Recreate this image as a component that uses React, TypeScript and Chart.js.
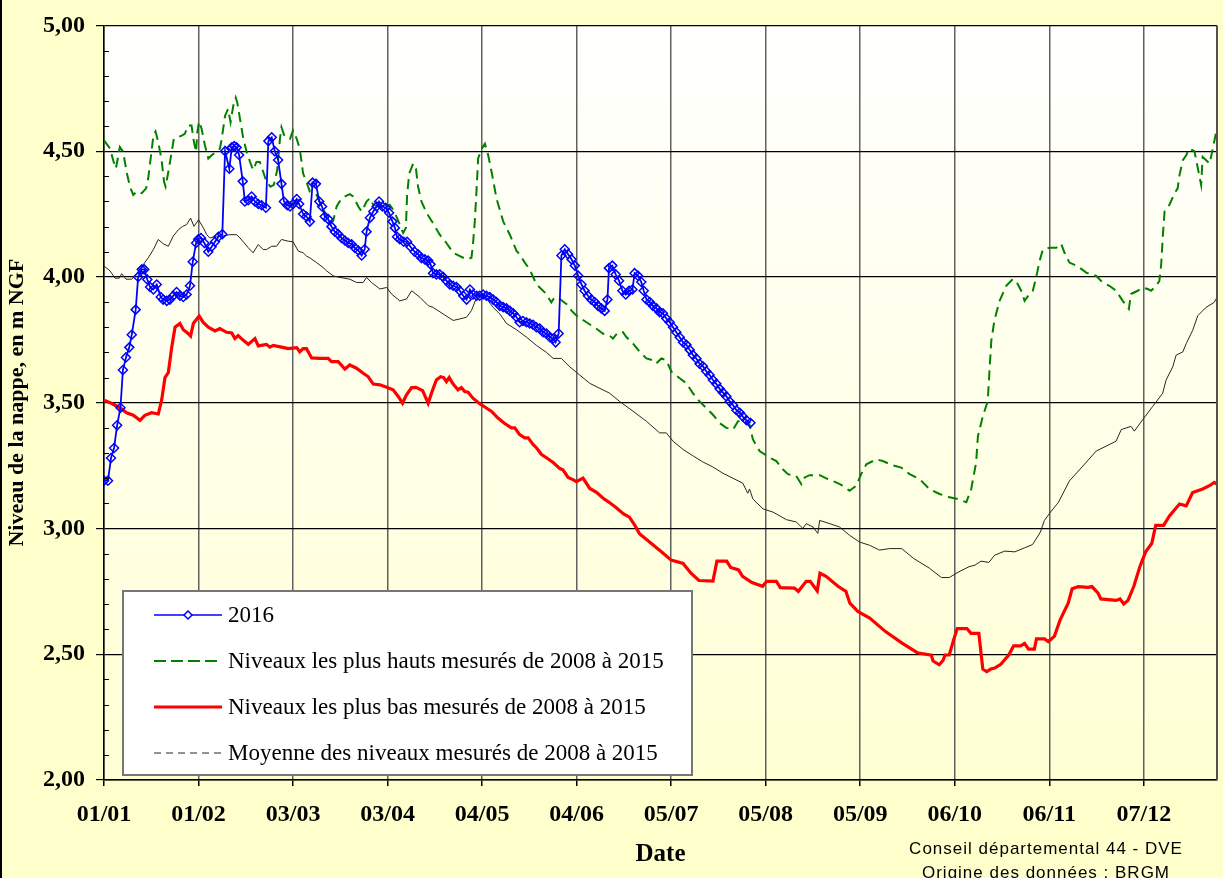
import React, { useEffect, useRef } from 'react';
import { Chart, registerables } from 'chart.js';

Chart.register(...registerables);

const W = 1223;
const H = 878;
const SERIF = '"Liberation Serif", "Times New Roman", serif';
const SANS = '"Liberation Sans", Arial, sans-serif';

// x axis: day of year 2016 (0 = 1 January)
const xTickDays = [0, 31, 62, 93, 124, 155, 186, 217, 248, 279, 310, 341];
const xTickLabels = ['01/01', '01/02', '03/03', '03/04', '04/05', '04/06', '05/07', '05/08', '05/09', '06/10', '06/11', '07/12'];
const yTickValues = [2, 2.5, 3, 3.5, 4, 4.5, 5];
const yTickLabels = ['2,00', '2,50', '3,00', '3,50', '4,00', '4,50', '5,00'];

const seriesLabels = [
  '2016',
  'Niveaux les plus hauts mesurés de 2008 à 2015',
  'Niveaux les plus bas mesurés de 2008 à 2015',
  'Moyenne des niveaux mesurés de 2008 à 2015',
];

// [day, level (m NGF)]
const levels2016: [number, number][] = [
  [0, 3.19], [1.3, 3.19], [2.3, 3.28], [3.3, 3.32], [4.3, 3.41], [5.4, 3.48], [6.2, 3.63], [7.2, 3.68], [8.3, 3.72], [9.1, 3.77],
  [10.4, 3.87], [11.2, 4.0], [12.4, 4.03], [13.2, 4.03], [14.2, 3.99], [15.1, 3.96], [16.2, 3.95], [17.3, 3.97], [18.6, 3.92], [19.4, 3.91],
  [20.6, 3.905], [21.6, 3.91], [22.7, 3.925], [23.8, 3.94], [24.9, 3.925], [26, 3.92], [27.1, 3.93], [28.2, 3.965], [29.1, 4.06], [30.2, 4.135],
  [30.9, 4.15], [31.8, 4.155], [32.9, 4.135], [34.2, 4.1], [35.3, 4.12], [36.4, 4.14], [37.5, 4.16], [38.8, 4.17], [39.7, 4.5], [41.1, 4.43],
  [41.9, 4.515], [42.7, 4.52], [43.5, 4.515], [44.3, 4.485], [45.5, 4.38], [46.2, 4.3], [47.3, 4.305], [48.4, 4.32], [49.5, 4.3], [50.6, 4.29],
  [51.7, 4.285], [53.1, 4.275], [53.9, 4.54], [55, 4.555], [56, 4.5], [57.1, 4.465], [58.2, 4.37], [59, 4.3], [60.1, 4.285], [61, 4.28],
  [62, 4.29], [63.2, 4.31], [64, 4.29], [65.3, 4.25], [66.4, 4.24], [67.5, 4.22], [68.4, 4.375], [69.5, 4.37], [70.6, 4.3], [71.5, 4.28],
  [72.4, 4.24], [73.5, 4.23], [74.6, 4.2], [75.7, 4.18], [76.8, 4.17], [77.9, 4.155], [79, 4.145], [80.1, 4.135], [81.2, 4.13], [82.3, 4.115],
  [83.4, 4.105], [84.5, 4.085], [85.5, 4.11], [86.1, 4.18], [87.2, 4.235], [88.3, 4.26], [89.4, 4.28], [90.2, 4.3], [91.3, 4.28], [92.4, 4.275],
  [93.5, 4.255], [94.6, 4.22], [95.4, 4.195], [96.1, 4.16], [97, 4.15], [98.3, 4.14], [99.4, 4.14], [100.5, 4.12], [101.9, 4.1], [103, 4.09],
  [104.1, 4.075], [105.2, 4.07], [106.3, 4.065], [107.1, 4.05], [107.9, 4.015], [109, 4.01], [110.1, 4.01], [111.2, 4.0], [112.3, 3.985], [113.4, 3.97],
  [114.5, 3.965], [115.6, 3.96], [116.7, 3.945], [117.8, 3.925], [118.9, 3.91], [120, 3.95], [121, 3.93], [122.2, 3.925], [123.2, 3.925], [124.3, 3.93],
  [125.4, 3.925], [126.5, 3.92], [127.6, 3.91], [128.7, 3.9], [129.8, 3.885], [130.9, 3.88], [132, 3.875], [133.1, 3.865], [134.2, 3.855], [135.3, 3.84],
  [136.3, 3.82], [137.4, 3.825], [138.5, 3.82], [139.6, 3.815], [140.7, 3.81], [141.8, 3.8], [142.9, 3.795], [144, 3.78], [145.1, 3.775], [146.2, 3.76],
  [147.3, 3.755], [148.1, 3.74], [149.1, 3.775], [150, 4.085], [151.1, 4.11], [152.2, 4.09], [153.3, 4.07], [154.4, 4.045], [155.5, 4.005], [156.6, 3.97],
  [157.6, 3.945], [158.7, 3.925], [159.8, 3.91], [160.9, 3.9], [162, 3.885], [163.1, 3.875], [164.2, 3.865], [165.1, 3.91], [165.6, 4.035], [166.7, 4.045],
  [167.8, 4.01], [168.9, 3.985], [170, 3.945], [171.1, 3.93], [172.2, 3.945], [173.3, 3.95], [174, 4.015], [175.1, 4.005], [176.2, 3.98], [177, 3.945],
  [177.9, 3.91], [179, 3.9], [180, 3.885], [181.2, 3.875], [182.2, 3.86], [183.3, 3.855], [184.4, 3.835], [185.5, 3.82], [186.6, 3.8], [187.7, 3.78],
  [188.8, 3.76], [189.9, 3.74], [191, 3.73], [192.1, 3.71], [193.1, 3.69], [194.3, 3.675], [195.3, 3.655], [196.4, 3.645], [197.5, 3.625], [198.6, 3.61],
  [199.7, 3.59], [200.8, 3.575], [201.9, 3.555], [203, 3.54], [204.1, 3.525], [205.2, 3.505], [206.3, 3.49], [207.4, 3.47], [208.5, 3.46], [209.5, 3.445],
  [210.7, 3.43], [212, 3.42],
];

const highLevels: [number, number][] = [
  [0, 4.543], [2, 4.51], [3, 4.464], [3.9, 4.431], [5.2, 4.516], [6.3, 4.497], [7.4, 4.418], [8.5, 4.359], [9.6, 4.326], [10.7, 4.34],
  [12.4, 4.333], [13.8, 4.352], [14.5, 4.392], [15.3, 4.471], [16.2, 4.562], [16.9, 4.578], [17.8, 4.536], [18.9, 4.464], [19.7, 4.378], [20.2, 4.359],
  [21.1, 4.418], [22.2, 4.497], [22.9, 4.549], [25.5, 4.562], [26.5, 4.569], [27.6, 4.602], [28.7, 4.602], [29.5, 4.536], [30.2, 4.497], [30.6, 4.576],
  [31.2, 4.618], [32, 4.589], [33.1, 4.523], [34.2, 4.471], [35.3, 4.484], [36.9, 4.497], [38, 4.51], [38.6, 4.549], [39.7, 4.641], [40.7, 4.668],
  [41.5, 4.615], [42.4, 4.681], [43.2, 4.713], [43.7, 4.694], [44.6, 4.628], [45.7, 4.549], [46.8, 4.497], [47.9, 4.457], [48.9, 4.425], [50, 4.457],
  [51.1, 4.457], [52.2, 4.418], [53.3, 4.378], [54.6, 4.359], [55.7, 4.366], [56.8, 4.425], [57.7, 4.549], [58.2, 4.595], [59.3, 4.556], [61, 4.549],
  [62, 4.582], [63.2, 4.549], [64.2, 4.51], [65.3, 4.411], [66.4, 4.378], [67.5, 4.339], [69.7, 4.326], [71.8, 4.27], [74.1, 4.214], [75.1, 4.221],
  [76.3, 4.28], [77.9, 4.313], [80.6, 4.329], [81.7, 4.32], [83.4, 4.28], [84.5, 4.26], [86.1, 4.3], [87.2, 4.313], [88.3, 4.287], [91.5, 4.274],
  [93.7, 4.287], [94.8, 4.267], [95.9, 4.24], [97, 4.208], [98.1, 4.175], [99, 4.195], [99.4, 4.326], [100.1, 4.411], [101.4, 4.451], [102.3, 4.431],
  [103, 4.359], [104.1, 4.3], [105.8, 4.254], [107.9, 4.214], [110.1, 4.168], [112.3, 4.135], [114.5, 4.096], [116.7, 4.083], [118.9, 4.07], [120.5, 4.076],
  [121, 4.129], [121.6, 4.221], [122.2, 4.352], [122.7, 4.471], [123.9, 4.51], [124.9, 4.53], [126, 4.484], [127.1, 4.418], [128.7, 4.313], [130.9, 4.221],
  [133.1, 4.168], [135.3, 4.103], [136.3, 4.09], [138, 4.057], [139.6, 4.03], [141.8, 3.971], [144.5, 3.939], [146.7, 3.899], [147.8, 3.92], [149.5, 3.912],
  [151.7, 3.892], [153.3, 3.866], [155, 3.846], [158.2, 3.82], [161.5, 3.794], [163.7, 3.774], [165.8, 3.767], [166.9, 3.755], [168.6, 3.78], [170.2, 3.78],
  [171.3, 3.761], [173.5, 3.735], [175.7, 3.702], [177.9, 3.676], [180, 3.669], [181.1, 3.656], [182.8, 3.676], [184.4, 3.669], [186.1, 3.623], [188.8, 3.597],
  [191, 3.577], [193.1, 3.538], [195.3, 3.505], [197.5, 3.479], [199.7, 3.452], [201.9, 3.419], [204.1, 3.4], [206.3, 3.393], [207.9, 3.426], [209.5, 3.432],
  [211.7, 3.413], [212.8, 3.354], [215, 3.308], [218.3, 3.281], [220.5, 3.268], [222.6, 3.235], [224.3, 3.216], [227, 3.209], [228.7, 3.176], [229.8, 3.203],
  [231.4, 3.212], [234.7, 3.212], [237.4, 3.196], [240.1, 3.183], [242.3, 3.17], [244.5, 3.15], [246.7, 3.17], [248.3, 3.216], [250, 3.255], [253.3, 3.275],
  [255.4, 3.268], [258.7, 3.251], [261.5, 3.242], [264.2, 3.216], [267.5, 3.196], [270.7, 3.157], [274, 3.137], [277.3, 3.124], [280, 3.117], [282.8, 3.104],
  [284.4, 3.157], [286, 3.262], [286.6, 3.367], [288.2, 3.446], [289.8, 3.505], [290.4, 3.63], [291, 3.748], [292, 3.827], [293.7, 3.905], [295.9, 3.965],
  [298, 3.991], [299.1, 3.984], [300.8, 3.945], [301.9, 3.905], [303.5, 3.932], [304.6, 3.945], [305.7, 3.998], [306.8, 4.063], [307.9, 4.109], [310.1, 4.116],
  [312.3, 4.116], [313.9, 4.132], [315, 4.096], [316.6, 4.057], [319.3, 4.043], [322.1, 4.017], [325.4, 4.004], [327.5, 3.978], [329.7, 3.965], [331.9, 3.945],
  [334.1, 3.905], [336.1, 3.873], [336.8, 3.932], [339, 3.945], [340.6, 3.958], [342.3, 3.952], [343.4, 3.945], [345, 3.965], [346.1, 3.984], [346.7, 4.05],
  [347.2, 4.155], [347.8, 4.26], [349.4, 4.287], [351.1, 4.333], [352.1, 4.352], [352.7, 4.405], [353.8, 4.464], [354.9, 4.484], [355.9, 4.51], [357.6, 4.5],
  [359.8, 4.366], [360.3, 4.477], [362.6, 4.451], [363.6, 4.51], [364.8, 4.58],
];

const lowLevels: [number, number][] = [
  [0, 3.51], [2, 3.5], [3.6, 3.49], [5.2, 3.48], [7.4, 3.46], [9.6, 3.45], [11.8, 3.43], [13.4, 3.45], [15.6, 3.46], [17.8, 3.455],
  [18.9, 3.51], [20, 3.6], [21.1, 3.62], [22.2, 3.72], [23.3, 3.8], [24.9, 3.815], [26, 3.79], [27.6, 3.775], [28.4, 3.765], [29.3, 3.815],
  [31.2, 3.845], [32.5, 3.82], [34.2, 3.8], [36.4, 3.785], [38, 3.795], [40.2, 3.78], [41.9, 3.777], [42.9, 3.755], [44, 3.767], [45.7, 3.748],
  [47.3, 3.732], [49.5, 3.755], [50.6, 3.726], [53.3, 3.732], [54.4, 3.721], [55.5, 3.728], [58.2, 3.721], [60.4, 3.715], [63.2, 3.719], [64.2, 3.702],
  [65.3, 3.715], [66.4, 3.715], [68.1, 3.678], [70.8, 3.676], [73.5, 3.676], [74.6, 3.663], [76.8, 3.663], [79, 3.634], [80.6, 3.65], [82.8, 3.637],
  [85, 3.617], [86.6, 3.604], [88.3, 3.574], [90.5, 3.571], [92.7, 3.561], [94.8, 3.551], [96.5, 3.525], [97.9, 3.498], [99.2, 3.531], [100.9, 3.56],
  [102.3, 3.561], [104.5, 3.548], [106.3, 3.498], [107.4, 3.538], [109, 3.59], [110.4, 3.603], [111.4, 3.6], [112.3, 3.584], [113.2, 3.6], [114.5, 3.574],
  [116.1, 3.551], [117.2, 3.56], [118.3, 3.544], [119.4, 3.542], [121, 3.518], [123.2, 3.496], [124.9, 3.483], [127.1, 3.465], [129.2, 3.439], [131.4, 3.417],
  [133.6, 3.4], [134.7, 3.4], [136.3, 3.373], [138, 3.36], [139.1, 3.36], [140.7, 3.334], [141.8, 3.321], [143.5, 3.294], [145.1, 3.281], [147.3, 3.262],
  [149.5, 3.238], [150.5, 3.233], [152.2, 3.203], [153.8, 3.194], [154.9, 3.186], [157.1, 3.2], [159.3, 3.159], [161.5, 3.144], [163.7, 3.12], [165.3, 3.107],
  [167.8, 3.084], [170.4, 3.058], [172.3, 3.045], [174.1, 3.012], [175.6, 2.979], [179.5, 2.94], [182.5, 2.91], [186, 2.874], [189.9, 2.861], [192.5, 2.822],
  [195.1, 2.793], [199.7, 2.791], [201, 2.87], [204.2, 2.87], [205.5, 2.845], [208.1, 2.835], [209.4, 2.81], [212.5, 2.785], [216, 2.77], [217.3, 2.79],
  [220.5, 2.79], [221.8, 2.765], [226.4, 2.763], [227.7, 2.75], [230.3, 2.79], [231.6, 2.79], [233.9, 2.752], [234.8, 2.822], [236.8, 2.81], [240.7, 2.77],
  [243.3, 2.75], [244.6, 2.703], [247.2, 2.67], [251.1, 2.644], [256.3, 2.59], [261.6, 2.545], [266.7, 2.506], [271.3, 2.496], [271.9, 2.473], [273.9, 2.458],
  [275.2, 2.476], [275.8, 2.497], [277.2, 2.497], [278.5, 2.552], [279.8, 2.602], [283, 2.602], [284.3, 2.583], [286.9, 2.583], [288.2, 2.441], [289.5, 2.431],
  [290.8, 2.441], [292.1, 2.445], [294.1, 2.46], [296.7, 2.497], [298.3, 2.533], [300.6, 2.533], [301.9, 2.543], [303.2, 2.52], [305.1, 2.52], [305.8, 2.561],
  [308.4, 2.561], [309.7, 2.55], [311.7, 2.572], [313.6, 2.638], [316.2, 2.703], [317.5, 2.76], [319.5, 2.769], [322.7, 2.766], [324, 2.769], [326, 2.743],
  [326.9, 2.72], [331.9, 2.714], [333.2, 2.72], [334.4, 2.7], [335.8, 2.714], [337.7, 2.769], [339.7, 2.848], [341.6, 2.907], [343.6, 2.94], [344.9, 3.012],
  [347.5, 3.012], [349.4, 3.05], [352.7, 3.097], [354.9, 3.09], [357, 3.143], [360.3, 3.157], [362.5, 3.17], [364.1, 3.183], [365, 3.176],
];

const meanLevels: [number, number][] = [
  [0, 4.043], [2, 4.024], [3.6, 3.995], [5, 3.995], [5.8, 4.013], [7.2, 3.991], [9.1, 3.991], [10.7, 4.013], [14.5, 4.076], [16.2, 4.109],
  [17.8, 4.149], [19.4, 4.132], [21.1, 4.122], [22.7, 4.162], [24.4, 4.188], [25.8, 4.201], [27.1, 4.208], [28.4, 4.234], [29.5, 4.201], [31, 4.227],
  [32.5, 4.197], [33.7, 4.168], [34.7, 4.155], [36.9, 4.162], [38.6, 4.162], [41.3, 4.168], [43.5, 4.168], [44.6, 4.155], [47.3, 4.116], [48.9, 4.096],
  [50.6, 4.129], [52.2, 4.109], [53.3, 4.109], [55, 4.122], [56.6, 4.122], [58.2, 4.149], [60.4, 4.142], [62, 4.14], [63.7, 4.103], [65.3, 4.096],
  [66.4, 4.083], [67.5, 4.076], [69.7, 4.057], [71.9, 4.037], [73, 4.024], [75.2, 4.004], [77.4, 3.998], [80.6, 3.991], [82.8, 3.978], [85, 3.978],
  [86.1, 3.998], [87.7, 3.978], [90.5, 3.952], [92.7, 3.958], [94.3, 3.932], [97, 3.905], [99.2, 3.912], [100.9, 3.945], [103.6, 3.919], [106.3, 3.886],
  [107.9, 3.879], [111.2, 3.853], [114.5, 3.827], [116.7, 3.833], [118.9, 3.84], [120.5, 3.866], [122.2, 3.919], [124.3, 3.932], [126, 3.905], [127.6, 3.879],
  [129.8, 3.853], [132, 3.815], [135.3, 3.79], [138.5, 3.761], [141.8, 3.728], [145.1, 3.7], [147.3, 3.676], [150, 3.676], [152.7, 3.643], [156, 3.61],
  [159.3, 3.577], [162.6, 3.557], [165.8, 3.538], [169.1, 3.505], [173.5, 3.466], [177.9, 3.426], [182.2, 3.38], [184.4, 3.38], [186.6, 3.347], [189.9, 3.314],
  [193, 3.29], [196.3, 3.265], [199.6, 3.245], [202.9, 3.22], [206.2, 3.2], [209.5, 3.18], [211.1, 3.14], [211.7, 3.157], [212.8, 3.117], [216.1, 3.078],
  [219.4, 3.065], [223.8, 3.035], [227, 3.026], [229.2, 3.0], [230.3, 3.019], [232.5, 3.006], [234.1, 2.98], [234.7, 3.032], [238, 3.019], [241.2, 3.006],
  [244.5, 2.973], [247.8, 2.946], [251.1, 2.933], [254.3, 2.914], [257.6, 2.92], [261.6, 2.92], [265.5, 2.881], [270.7, 2.842], [274.6, 2.805], [277.2, 2.805],
  [280.4, 2.828], [283.7, 2.848], [285.6, 2.854], [287.6, 2.87], [290.2, 2.865], [292.1, 2.894], [295.4, 2.91], [298.7, 2.907], [301.9, 2.923], [304.5, 2.936],
  [307.1, 2.986], [308.4, 3.032], [310.4, 3.065], [313, 3.104], [316.6, 3.189], [321, 3.248], [325.4, 3.308], [328.6, 3.327], [331.9, 3.347], [333.6, 3.393],
  [336.8, 3.406], [337.9, 3.387], [340.6, 3.432], [343.9, 3.485], [347.2, 3.538], [348.3, 3.59], [350.5, 3.643], [351.6, 3.689], [353.8, 3.702], [354.9, 3.735],
  [357, 3.787], [358.7, 3.846], [361.4, 3.879], [364.1, 3.899], [365, 3.919],
];

const toPoints = (rows: [number, number][]) => rows.map(([x, y]) => ({ x, y }));

const decorPlugin = {
  id: 'decor',
  beforeDraw(chart: any) {
    const { ctx, chartArea: a, width, height } = chart;
    ctx.save();
    ctx.fillStyle = '#FFFFCC';
    ctx.fillRect(0, 0, width, height);
    const g = ctx.createLinearGradient(0, a.top, 0, a.bottom);
    g.addColorStop(0, '#FFFFFF');
    g.addColorStop(1, '#FFFFD4');
    ctx.fillStyle = g;
    ctx.fillRect(a.left, a.top, a.right - a.left, a.bottom - a.top);
    ctx.restore();
  },
  afterDraw(chart: any) {
    const { ctx, chartArea: a, scales } = chart;
    const ys = scales.y;
    ctx.save();
    // minor inward ticks on the y axis
    ctx.strokeStyle = '#000';
    ctx.lineWidth = 1;
    for (let i = 21; i < 50; i++) {
      if (i % 5 === 0) continue;
      const py = Math.round(ys.getPixelForValue(i / 10)) + 0.5;
      ctx.beginPath();
      ctx.moveTo(a.left, py);
      ctx.lineTo(a.left + 5, py);
      ctx.stroke();
    }
    // right border of the plot
    ctx.strokeStyle = '#505050';
    ctx.lineWidth = 2;
    ctx.beginPath();
    ctx.moveTo(a.right, a.top);
    ctx.lineTo(a.right, a.bottom);
    ctx.stroke();

    // legend box
    const bx = 123, by = 591, bw = 569, bh = 184;
    ctx.fillStyle = '#FFFFFF';
    ctx.fillRect(bx, by, bw, bh);
    ctx.strokeStyle = '#767676';
    ctx.lineWidth = 2;
    ctx.strokeRect(bx, by, bw, bh);
    const rowsY = [615, 661, 707, 753];
    const x0 = 154, x1 = 222;
    const ds = chart.data.datasets;
    rowsY.forEach((ry, i) => {
      const d = ds[i];
      ctx.save();
      ctx.strokeStyle = d.borderColor;
      if (i === 0) {
        ctx.lineWidth = 1.5;
        ctx.beginPath(); ctx.moveTo(x0, ry); ctx.lineTo(x1, ry); ctx.stroke();
        ctx.fillStyle = '#FFFFFF';
        ctx.beginPath();
        ctx.moveTo(188, ry - 4); ctx.lineTo(192, ry); ctx.lineTo(188, ry + 4); ctx.lineTo(184, ry); ctx.closePath();
        ctx.fill(); ctx.stroke();
      } else if (i === 1) {
        ctx.lineWidth = 2;
        ctx.setLineDash([12, 5]);
        ctx.beginPath(); ctx.moveTo(x0, ry); ctx.lineTo(x1, ry); ctx.stroke();
      } else if (i === 2) {
        ctx.lineWidth = 3.2;
        ctx.beginPath(); ctx.moveTo(x0, ry); ctx.lineTo(x1, ry); ctx.stroke();
      } else {
        ctx.lineWidth = 1;
        ctx.setLineDash([7, 5]);
        ctx.beginPath(); ctx.moveTo(x0, ry); ctx.lineTo(x1, ry); ctx.stroke();
      }
      ctx.restore();
      ctx.fillStyle = '#000';
      ctx.font = `23px ${SERIF}`;
      ctx.textAlign = 'left';
      ctx.textBaseline = 'middle';
      ctx.fillText(d.label, 228, ry + 1);
    });

    // credits
    ctx.fillStyle = '#000';
    ctx.font = `17px ${SANS}`;
    ctx.textAlign = 'center';
    ctx.textBaseline = 'middle';
    try { (ctx as any).letterSpacing = '1px'; } catch (e) { /* ignore */ }
    ctx.fillText('Conseil départemental 44 - DVE', 1046, 849);
    ctx.fillText('Origine des données : BRGM', 1046, 873);
    try { (ctx as any).letterSpacing = '0px'; } catch (e) { /* ignore */ }

    // left frame
    ctx.fillStyle = '#000';
    ctx.fillRect(0, 0, 2, chart.height);
    ctx.restore();
  },
};

export default function App() {
  const ref = useRef<HTMLCanvasElement>(null);

  useEffect(() => {
    const canvas = ref.current;
    if (!canvas) return;
    const chart = new Chart(canvas, {
      type: 'line',
      data: {
        datasets: [
          {
            label: seriesLabels[0],
            data: toPoints(levels2016),
            borderColor: '#0000FF',
            borderWidth: 1.8,
            pointStyle: 'rectRot',
            pointRadius: 4.5,
            pointBorderColor: '#0000FF',
            pointBackgroundColor: 'rgba(255,255,255,0)',
            pointBorderWidth: 1.5,
            tension: 0,
          },
          {
            label: seriesLabels[1],
            data: toPoints(highLevels),
            borderColor: '#008000',
            borderWidth: 2,
            borderDash: [10, 6],
            pointRadius: 0,
            tension: 0,
          },
          {
            label: seriesLabels[2],
            data: toPoints(lowLevels),
            borderColor: '#FF0000',
            borderWidth: 3.2,
            pointRadius: 0,
            tension: 0,
          },
          {
            label: seriesLabels[3],
            data: toPoints(meanLevels),
            borderColor: '#262626',
            borderWidth: 1,
            pointRadius: 0,
            tension: 0,
          },
        ],
      } as any,
      options: {
        animation: false,
        responsive: false,
        devicePixelRatio: 1,
        events: [],
        layout: { padding: { top: 19, right: 5, left: 0, bottom: 0 } },
        plugins: {
          legend: { display: false },
          title: { display: false },
          tooltip: { enabled: false },
        },
        scales: {
          x: {
            type: 'linear',
            min: 0,
            max: 365,
            afterBuildTicks: (s: any) => {
              s.ticks = xTickDays.map((v) => ({ value: v }));
            },
            afterFit: (s: any) => {
              s.height = 98;
            },
            ticks: {
              autoSkip: false,
              maxRotation: 0,
              padding: 14,
              color: '#000',
              font: { family: SERIF, size: 24, weight: 'bold' },
              callback: (_v: any, i: number) => xTickLabels[i],
            },
            grid: { color: '#606060', lineWidth: 1.5, tickLength: 6, tickColor: '#000' },
            border: { color: '#000', width: 1.5 },
            title: {
              display: true,
              text: 'Date',
              color: '#000',
              font: { family: SERIF, size: 25, weight: 'bold' },
              padding: { top: 0, bottom: 8 },
            },
          },
          y: {
            type: 'linear',
            min: 2,
            max: 5,
            afterBuildTicks: (s: any) => {
              s.ticks = yTickValues.map((v) => ({ value: v }));
            },
            afterFit: (s: any) => {
              s.width = 104;
            },
            ticks: {
              padding: 11,
              color: '#000',
              font: { family: SERIF, size: 24, weight: 'bold' },
              callback: (_v: any, i: number) => yTickLabels[i],
            },
            grid: { color: '#000', lineWidth: 1.2, tickLength: 8, tickColor: '#000' },
            border: { color: '#000', width: 1.5 },
            title: {
              display: true,
              text: 'Niveau de la nappe, en m NGF',
              color: '#000',
              font: { family: SERIF, size: 22, weight: 'bold' },
              padding: { top: 4, bottom: 0 },
            },
          },
        },
      } as any,
      plugins: [decorPlugin as any],
    });
    return () => chart.destroy();
  }, []);

  return (
    <div style={{ position: 'fixed', left: 0, top: 0, width: W, height: H, overflow: 'hidden', background: '#FFFFCC' }}>
      <canvas ref={ref} width={W} height={H} style={{ display: 'block', width: W, height: H }} />
    </div>
  );
}
